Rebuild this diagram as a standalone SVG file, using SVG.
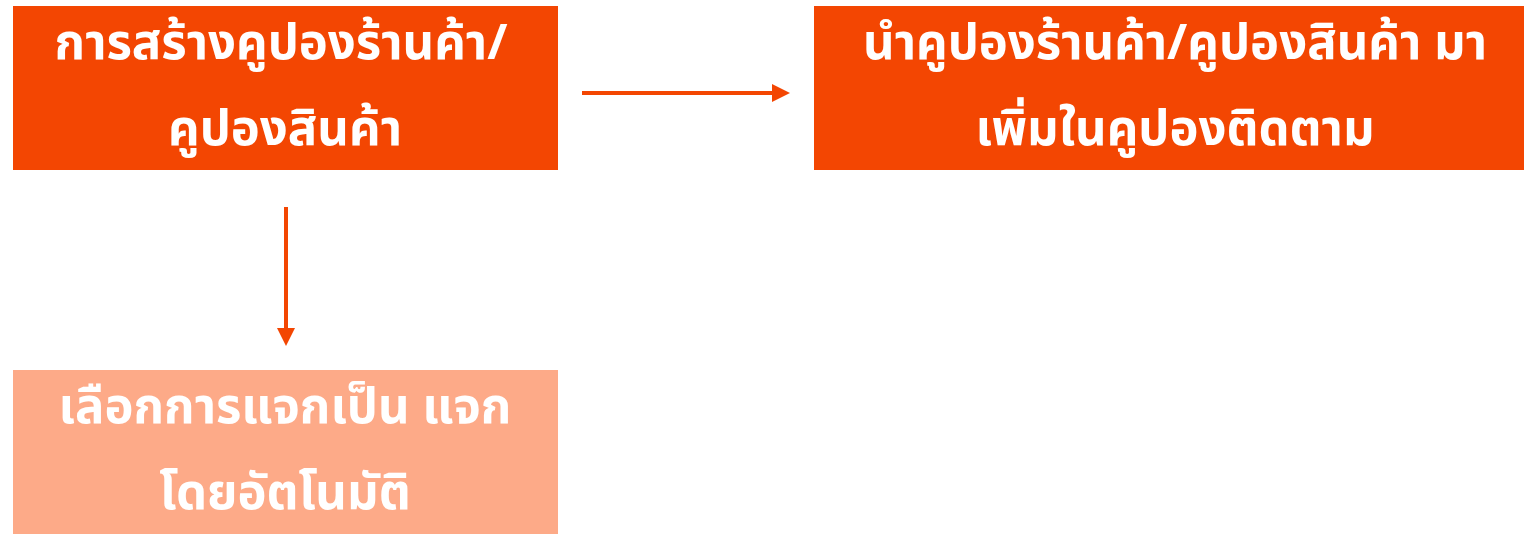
<svg xmlns="http://www.w3.org/2000/svg" width="1524" height="534" viewBox="0 0 1524 534">
<style>
.dark{fill:#F34602}
.light{fill:#FDAA88}
text{font-family:"Noto Sans Thai","Noto Sans","DejaVu Sans",sans-serif;font-weight:bold;font-size:49px;fill:#FFFFFF;text-anchor:middle}
.conn{stroke:#F34602;stroke-width:4;fill:none}
</style>
<defs>
<marker id="ah" markerWidth="18" markerHeight="18" viewBox="0 0 18 18" refX="0" refY="9" orient="auto" markerUnits="userSpaceOnUse">
<path d="M0,0 L18,9 L0,18 Z" fill="#F34602"/>
</marker>
</defs>
<rect width="1524" height="534" fill="#FFFFFF"/>
<g id="node1">
<rect class="dark" x="13" y="6" width="545" height="164"/>
<text x="281" y="59">การสร้างคูปองร้านค้า/</text>
<text x="285" y="145">คูปองสินค้า</text>
</g>
<g id="node2">
<rect class="dark" x="814" y="6" width="710" height="164"/>
<text x="1175" y="59">นำคูปองร้านค้า/คูปองสินค้า มา</text>
<text x="1175" y="145">เพิ่มในคูปองติดตาม</text>
</g>
<g id="node3">
<rect class="light" x="13" y="370" width="545" height="164"/>
<text x="285" y="423">เลือกการแจกเป็น แจก</text>
<text x="285" y="509">โดยอัตโนมัติ</text>
</g>
<g id="connectors">
<line class="conn" x1="582" y1="93" x2="772" y2="93" marker-end="url(#ah)"/>
<line class="conn" x1="286" y1="207" x2="286" y2="328" marker-end="url(#ah)"/>
</g>
</svg>
